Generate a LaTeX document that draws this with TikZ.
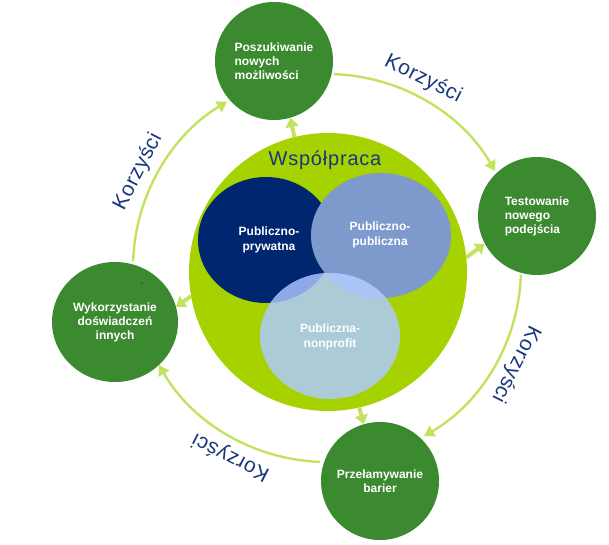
\documentclass[tikz,border=0pt]{standalone}
\usepackage{fontspec}
\setmainfont{Liberation Sans}
\usetikzlibrary{arrows.meta,shapes.geometric,calc}
\definecolor{greenC}{RGB}{60,138,48}
\definecolor{limeC}{RGB}{166,211,0}
\definecolor{ringC}{RGB}{193,227,95}
\definecolor{navyC}{RGB}{0,38,112}
\definecolor{medB}{RGB}{126,154,204}
\definecolor{lightB}{RGB}{173,203,215}
\definecolor{ovDL}{RGB}{143,169,232}
\definecolor{ovML}{RGB}{170,196,248}
\definecolor{textNavy}{RGB}{25,55,125}
\begin{document}
\begin{tikzpicture}[x=1pt,y=1pt,
  greencirc/.style={circle, fill=greenC, minimum size=118pt, inner sep=0pt, text=white,
    font=\bfseries\fontsize{12}{14}\selectfont},
  ringarc/.style={draw=ringC, line width=2.4pt, -{Triangle[length=10pt,width=12pt]}},
  stub/.style={draw=ringC, line width=4pt, -{Triangle[length=9pt,width=13pt]}},
  benefit/.style={text=textNavy, inner sep=0pt,
    font=\fontsize{21}{24}\selectfont\addfontfeature{LetterSpace=3}},
  venntext/.style={text=white, inner sep=0pt, font=\bfseries\fontsize{12}{15}\selectfont, align=center}
]
\useasboundingbox (0,0) rectangle (609,544);
\coordinate (O) at (327,276);

% outer ring arcs
\draw[ringarc] ([shift={(88:194)}]O) arc[start angle=88, end angle=30, radius=194];
\draw[ringarc] ([shift={(-2:194)}]O) arc[start angle=-2, end angle=-60, radius=194];
\draw[ringarc] ([shift={(-92:194)}]O) arc[start angle=-92, end angle=-150, radius=194];
\draw[ringarc] ([shift={(178:194)}]O) arc[start angle=178, end angle=121, radius=194];

% benefit labels
\node[benefit, rotate=-27] (k1) at ($(O)+(63:212)$) {Korzyści};
\node[benefit, rotate=-117] (k2) at ($(O)+(-27:212)$) {Korzyści};
\node[benefit, rotate=153] (k3) at ($(O)+(-117:212)$) {Korzyści};
\node[benefit, rotate=63] (k4) at ($(O)+(153:212)$) {Korzyści};

% central lime circle
\node[circle, fill=limeC, minimum size=278pt, inner sep=0pt] (lime) at (328,272) {};

% Venn ellipses
\fill[navyC] (266,304) ellipse [x radius=68, y radius=63];
\fill[medB] (381,308.5) ellipse [x radius=70, y radius=62.5];
\fill[lightB] (330,208) ellipse [x radius=70, y radius=63];
\begin{scope}
  \clip (330,208) ellipse [x radius=70, y radius=63];
  \fill[ovDL] (266,304) ellipse [x radius=68, y radius=63];
  \fill[ovML] (381,308.5) ellipse [x radius=70, y radius=62.5];
\end{scope}

\node[text=textNavy, font=\fontsize{20}{23}\selectfont\addfontfeature{LetterSpace=4}] (wsp) at (325,384) {Współpraca};
\node[venntext] (pp) at (269,304) {Publiczno-\\prywatna};
\node[venntext] (ppub) at (380,309) {Publiczno-\\publiczna};
\node[venntext] (pn) at (330,207) {Publiczna-\\nonprofit};

% green circles
\node[greencirc, align=left] (posz) at (274,483) {Poszukiwanie\\nowych\\możliwości};
\node[greencirc, align=left] (test) at (537,328) {Testowanie\\nowego\\podejścia};
\node[greencirc, ellipse, minimum width=126pt, minimum height=120pt, align=center] (wyk) at (115,222) {Wykorzystanie\\doświadczeń\\innych};
\node[greencirc, align=center] (prz) at (380,63) {Przełamywanie\\barier};

% short arrows from the lime circle
\draw[stub] (lime.104) -- (posz.-74);
\draw[stub] (lime.6) -- (test.208);
\draw[stub] (lime.190) -- (wyk.14);
\draw[stub] (lime.-77) -- (prz.106);

% stray dot
\node[circle, fill=black, inner sep=0pt, minimum size=1.4pt] (dot) at (142,261) {};
\end{tikzpicture}
\end{document}
